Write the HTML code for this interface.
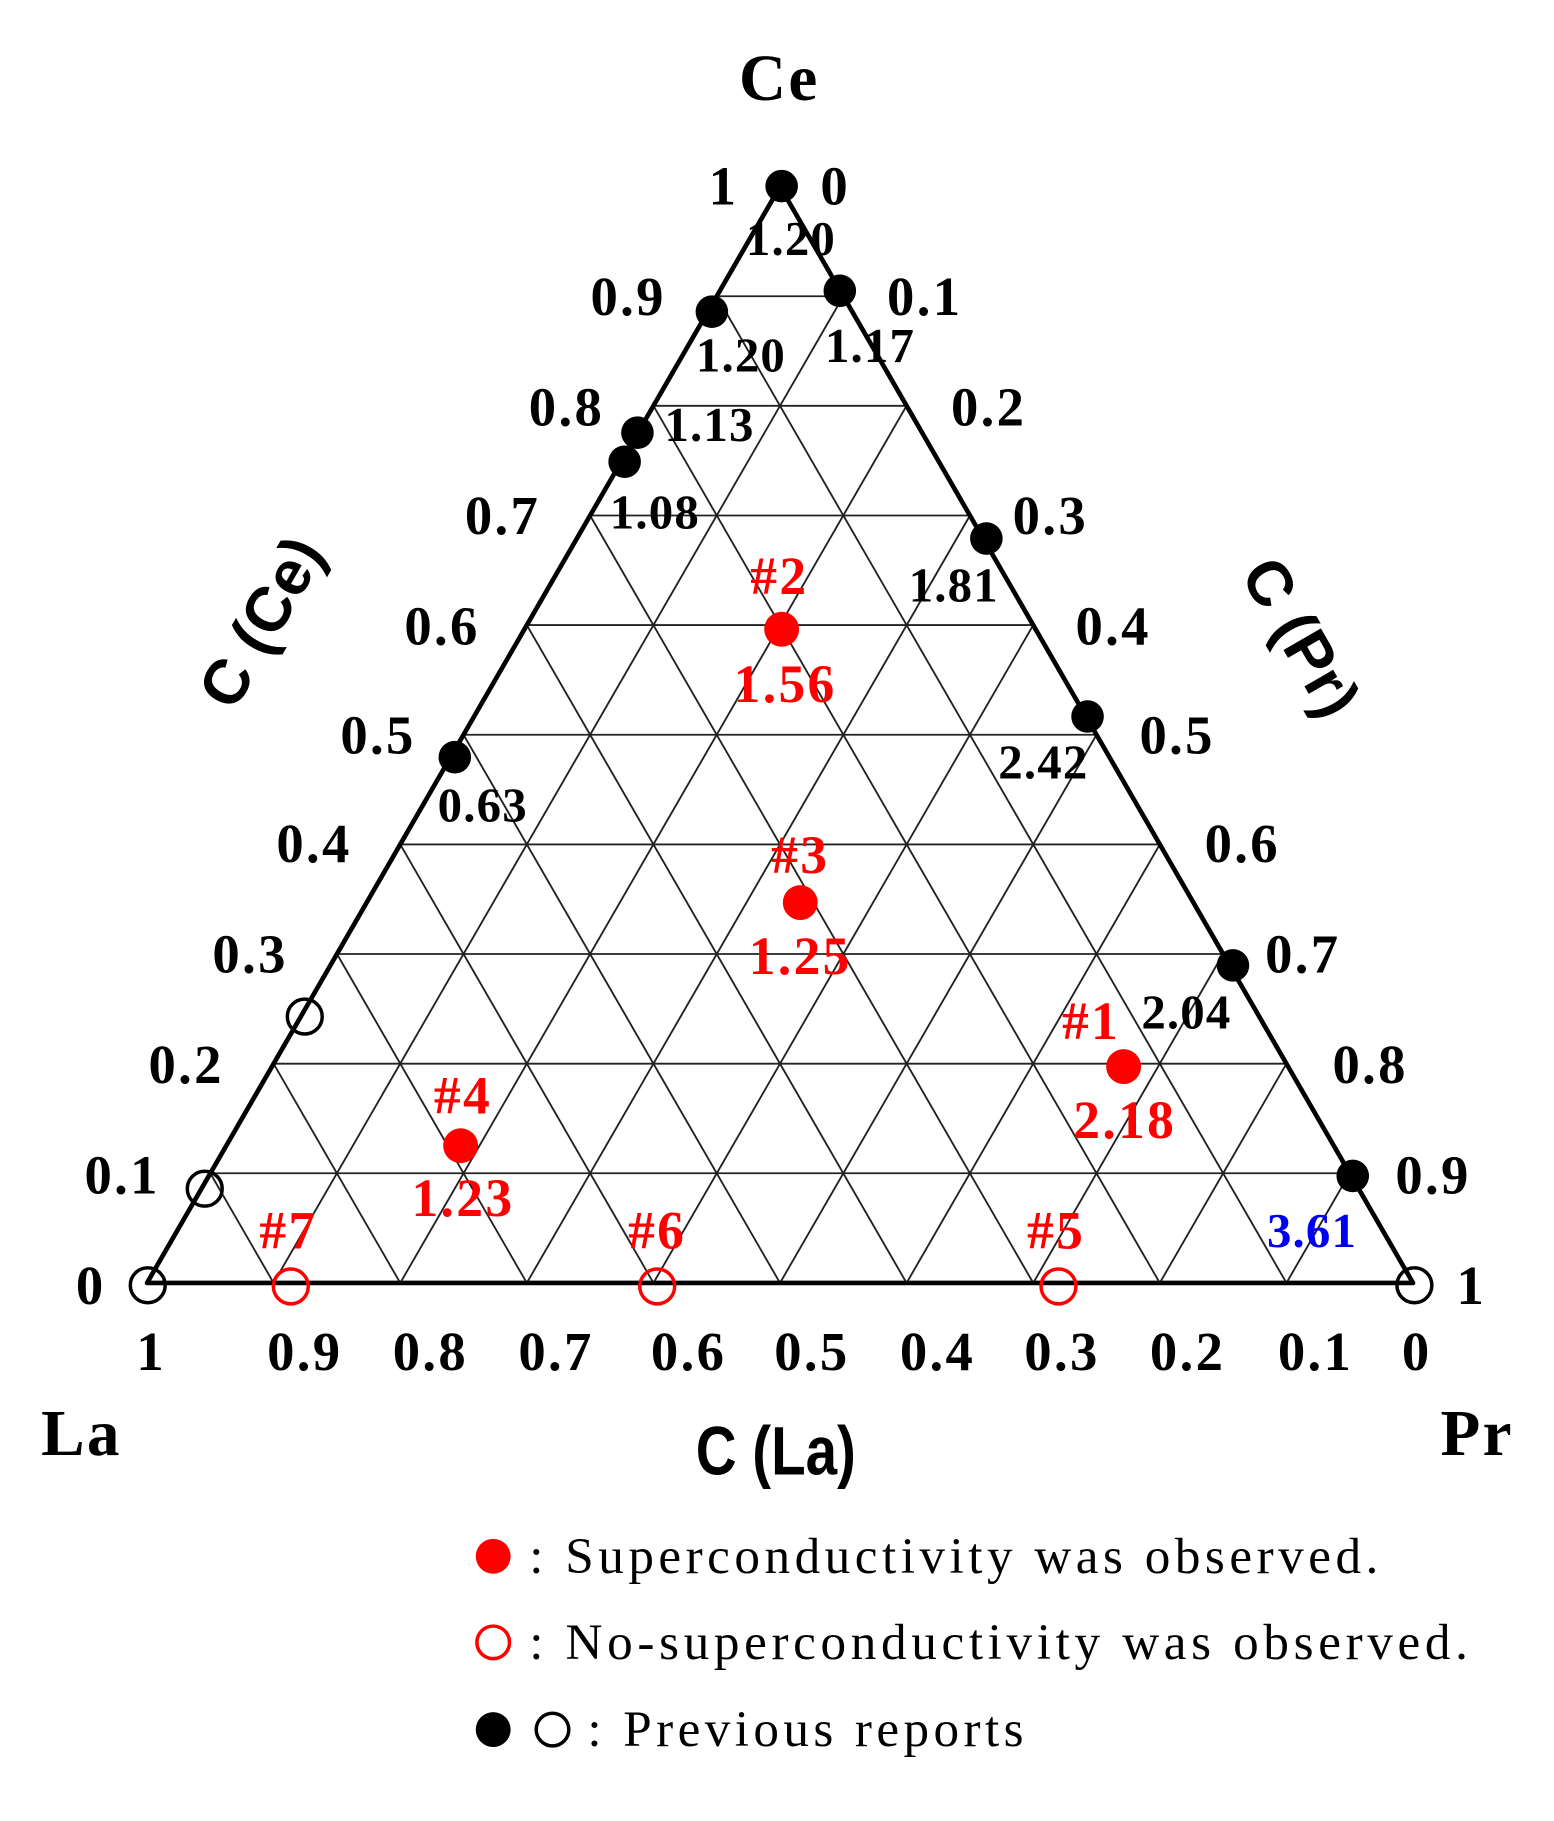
<!DOCTYPE html>
<html><head><meta charset="utf-8"><style>html,body{margin:0;padding:0;background:#fff}svg{display:block}</style></head>
<body>
<svg width="1554" height="1821" viewBox="0 0 1336 1565.6" xmlns="http://www.w3.org/2000/svg" font-family="Liberation Serif, serif" font-weight="bold">
<g stroke="#222" stroke-width="1.6" fill="none">
<line x1="180.8" y1="1008.7" x2="1160.4" y2="1008.7"/>
<line x1="235.2" y1="914.5" x2="1106.0" y2="914.5"/>
<line x1="289.7" y1="820.2" x2="1051.5" y2="820.2"/>
<line x1="344.1" y1="726.0" x2="997.1" y2="726.0"/>
<line x1="398.5" y1="631.7" x2="942.7" y2="631.7"/>
<line x1="452.9" y1="537.4" x2="888.3" y2="537.4"/>
<line x1="507.3" y1="443.2" x2="833.9" y2="443.2"/>
<line x1="561.8" y1="348.9" x2="779.4" y2="348.9"/>
<line x1="616.2" y1="254.7" x2="725.0" y2="254.7"/>
<line x1="235.2" y1="1103" x2="180.8" y2="1008.7"/>
<line x1="344.1" y1="1103" x2="235.2" y2="914.5"/>
<line x1="452.9" y1="1103" x2="289.7" y2="820.2"/>
<line x1="561.8" y1="1103" x2="344.1" y2="726.0"/>
<line x1="670.6" y1="1103" x2="398.5" y2="631.7"/>
<line x1="779.4" y1="1103" x2="452.9" y2="537.4"/>
<line x1="888.3" y1="1103" x2="507.3" y2="443.2"/>
<line x1="997.1" y1="1103" x2="561.8" y2="348.9"/>
<line x1="1106.0" y1="1103" x2="616.2" y2="254.7"/>
<line x1="235.2" y1="1103" x2="725.0" y2="254.7"/>
<line x1="344.1" y1="1103" x2="779.4" y2="348.9"/>
<line x1="452.9" y1="1103" x2="833.9" y2="443.2"/>
<line x1="561.8" y1="1103" x2="888.3" y2="537.4"/>
<line x1="670.6" y1="1103" x2="942.7" y2="631.7"/>
<line x1="779.4" y1="1103" x2="997.1" y2="726.0"/>
<line x1="888.3" y1="1103" x2="1051.5" y2="820.2"/>
<line x1="997.1" y1="1103" x2="1106.0" y2="914.5"/>
<line x1="1106.0" y1="1103" x2="1160.4" y2="1008.7"/>
</g>
<polygon points="126.4,1103 670.6,160.4 1214.8,1103" fill="none" stroke="#000" stroke-width="4" stroke-linejoin="round"/>
<g fill="#000">
<circle cx="672" cy="160" r="14"/><circle cx="722" cy="250" r="14"/><circle cx="612" cy="268" r="14"/>
<circle cx="548" cy="372" r="14"/><circle cx="537" cy="397" r="14"/><circle cx="848" cy="463" r="14"/>
<circle cx="935" cy="616" r="14"/><circle cx="391" cy="651" r="14"/><circle cx="1060" cy="830" r="14"/>
<circle cx="1163" cy="1011" r="14"/>
</g>
<g fill="none" stroke="#000" stroke-width="3">
<circle cx="262" cy="874" r="15"/><circle cx="176" cy="1022" r="15"/><circle cx="127" cy="1105" r="15"/><circle cx="1216" cy="1105" r="15"/>
</g>
<g fill="#f00"><circle cx="672" cy="541" r="15"/><circle cx="688" cy="776" r="15"/><circle cx="966" cy="917" r="15"/><circle cx="396" cy="985" r="15"/></g>
<g fill="none" stroke="#f00" stroke-width="3"><circle cx="250" cy="1106" r="15"/><circle cx="565" cy="1106" r="15"/><circle cx="910" cy="1106" r="15"/></g>
<g font-size="47" letter-spacing="2" text-anchor="middle" dominant-baseline="central" fill="#000">
<text x="622" y="160">1</text><text x="718" y="160">0</text>
<text x="540" y="255">0.9</text><text x="795" y="255">0.1</text>
<text x="487" y="350">0.8</text><text x="850" y="350">0.2</text>
<text x="432" y="443">0.7</text><text x="903" y="443">0.3</text>
<text x="380" y="538">0.6</text><text x="957" y="538">0.4</text>
<text x="325" y="632">0.5</text><text x="1012" y="632">0.5</text>
<text x="270" y="725">0.4</text><text x="1068" y="725">0.6</text>
<text x="215" y="820">0.3</text><text x="1120" y="820">0.7</text>
<text x="160" y="915">0.2</text><text x="1178" y="915">0.8</text>
<text x="105" y="1010">0.1</text><text x="1232" y="1010">0.9</text>
<text x="78" y="1105">0</text><text x="1265" y="1105">1</text>
<text x="130" y="1162">1</text><text x="262" y="1162">0.9</text><text x="370" y="1162">0.8</text><text x="478" y="1162">0.7</text><text x="592" y="1162">0.6</text><text x="698" y="1162">0.5</text><text x="806" y="1162">0.4</text><text x="913" y="1162">0.3</text><text x="1021" y="1162">0.2</text><text x="1131" y="1162">0.1</text><text x="1218" y="1162">0</text>
<text x="670" y="68" font-size="56">Ce</text>
<text x="70" y="1233" font-size="56">La</text>
<text x="1270" y="1233" font-size="56">Pr</text>
</g>
<g font-size="42" letter-spacing="1" text-anchor="middle" dominant-baseline="central" fill="#000">
<text x="680" y="205">1.20</text><text x="748" y="297">1.17</text><text x="637" y="305">1.20</text>
<text x="610" y="365">1.13</text><text x="563" y="440">1.08</text><text x="820" y="503">1.81</text>
<text x="897" y="655">2.42</text><text x="415" y="692">0.63</text><text x="1020" y="870">2.04</text>
<text x="1128" y="1058" fill="#0000ee">3.61</text>
</g>
<g font-size="46" letter-spacing="2" text-anchor="middle" dominant-baseline="central" fill="#f00">
<text x="670" y="495">#2</text><text x="675" y="588">1.56</text>
<text x="688" y="735">#3</text><text x="688" y="822">1.25</text>
<text x="938" y="878">#1</text><text x="967" y="963">2.18</text>
<text x="398" y="942">#4</text><text x="398" y="1030">1.23</text>
<text x="248" y="1058">#7</text><text x="565" y="1058">#6</text><text x="908" y="1058">#5</text>
</g>
<g font-family="Liberation Sans, sans-serif" font-weight="bold" font-size="54" text-anchor="middle" dominant-baseline="central" fill="#000">
<text x="667" y="1248" transform="translate(667 1248) scale(0.9 1.1) translate(-667 -1248)">C (La)</text>
<text x="225" y="535" transform="rotate(-60 225 535)">C (Ce)</text>
<text x="1118" y="548" transform="rotate(60 1118 548)">C (Pr)</text>
</g>
<g font-weight="normal" font-size="44" dominant-baseline="central" fill="#000">
<circle cx="424" cy="1338" r="15" fill="#f00"/>
<text x="455" y="1338" textLength="730" lengthAdjust="spacing">: Superconductivity  was observed.</text>
<circle cx="424" cy="1412" r="14" fill="none" stroke="#f00" stroke-width="3"/>
<text x="455" y="1412" textLength="807" lengthAdjust="spacing">: No-superconductivity  was observed.</text>
<circle cx="424" cy="1487" r="15" fill="#000"/>
<circle cx="475" cy="1487" r="14" fill="none" stroke="#000" stroke-width="3"/>
<text x="505" y="1487" textLength="375" lengthAdjust="spacing">: Previous  reports</text>
</g>
</svg>
</body></html>
